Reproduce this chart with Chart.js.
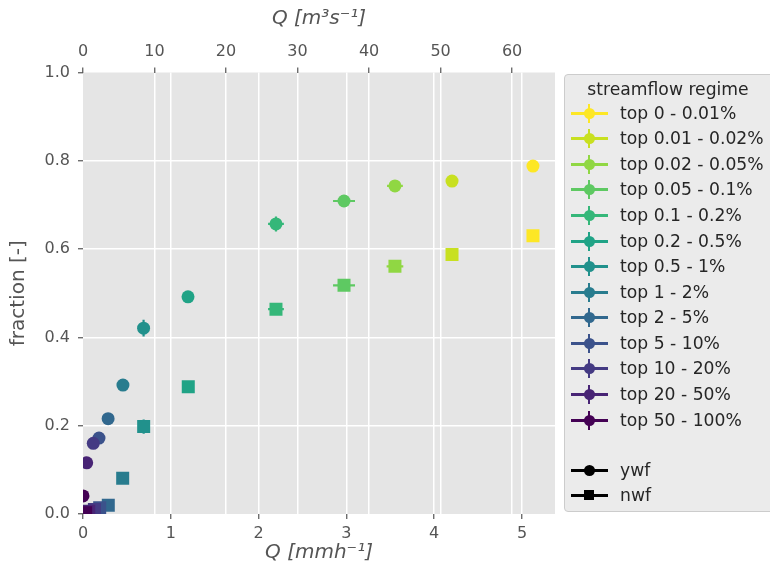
<!DOCTYPE html>
<html lang="en">
<head>
<meta charset="UTF-8">
<script src="https://cdn.jsdelivr.net/npm/chart.js"></script>
<title>Streamflow regime</title>
<style>
    body {
        margin: 0;
        background: #ffffff;
        width: 770px;
        height: 568px;
        overflow: hidden;
        position: relative;
        font-family: 'DejaVu Sans', sans-serif;
    }
    #chart {
        position: absolute;
        left: 0;
        top: 0;
    }
    #legend {
        position: absolute;
        left: 564px;
        top: 74px;
        width: 222px;
        height: 438px;
        background: #ebebeb;
        border: 1px solid #cccccc;
        border-radius: 4px;
        box-sizing: border-box;
        color: #262626;
        font-size: 17.2px;
    }
    .ltitle {
        position: absolute;
        left: 0;
        width: 206px;
        top: 2px;
        height: 25px;
        line-height: 25px;
        text-align: center;
        white-space: nowrap;
    }
    .row {
        position: absolute;
        left: 0;
        height: 25px;
        width: 220px;
    }
    .row .txt {
        position: absolute;
        left: 55px;
        top: 0;
        line-height: 25px;
        white-space: nowrap;
    }
    .row .ln {
        position: absolute;
        left: 6px;
        width: 37px;
        top: 11px;
        height: 3px;
    }
    .row .bar {
        position: absolute;
        left: 23px;
        width: 2px;
        top: 3px;
        height: 19px;
    }
    .row .dot {
        position: absolute;
        left: 18.5px;
        top: 7px;
        width: 11px;
        height: 11px;
        border-radius: 50%;
    }
    .row .sq {
        position: absolute;
        left: 19px;
        top: 7.5px;
        width: 10px;
        height: 10px;
    }
</style>
</head>
<body>
<canvas id="chart" width="770" height="568"></canvas>
<div id="legend">
    <div class="ltitle">streamflow regime</div>
</div>
<script>
    // streamflow classes, from highest flows down (legend order)
    const categories = ['top 0 - 0.01%', 'top 0.01 - 0.02%', 'top 0.02 - 0.05%', 'top 0.05 - 0.1%',
        'top 0.1 - 0.2%', 'top 0.2 - 0.5%', 'top 0.5 - 1%', 'top 1 - 2%', 'top 2 - 5%',
        'top 5 - 10%', 'top 10 - 20%', 'top 20 - 50%', 'top 50 - 100%'];
    const colors = ['#fde725', '#c8e020', '#90d743', '#5ec962', '#35b779', '#20a386', '#21918c',
        '#287c8e', '#31688e', '#3b528b', '#443a83', '#482475', '#440154'];

    // young water fraction (ywf)
    const qYwf = [5.125, 4.203, 3.553, 2.973, 2.198, 1.196, 0.690, 0.455, 0.286, 0.182, 0.117, 0.042, 0.0];
    const fracYwf = [0.788, 0.754, 0.743, 0.709, 0.657, 0.492, 0.421, 0.292, 0.216, 0.172, 0.160, 0.116, 0.041];
    const xErrYwf = [0, 0, 0.09, 0.125, 0.09, 0, 0, 0, 0, 0, 0, 0, 0];
    const yErrYwf = [0, 0, 0, 0, 0.017, 0, 0.019, 0, 0, 0, 0, 0, 0];

    // new water fraction (nwf)
    const qNwf = [5.125, 4.203, 3.553, 2.973, 2.198, 1.199, 0.691, 0.452, 0.288, 0.190, 0.130, 0.065, 0.030];
    const fracNwf = [0.630, 0.588, 0.561, 0.518, 0.464, 0.288, 0.198, 0.081, 0.020, 0.014, 0.010, 0.006, 0.003];
    const xErrNwf = [0, 0, 0.095, 0.125, 0.09, 0, 0, 0, 0, 0, 0, 0, 0];
    const yErrNwf = [0, 0, 0, 0, 0.01, 0, 0.016, 0, 0, 0, 0, 0, 0];

    const qTicks = [0, 1, 2, 3, 4, 5];             // mm/h
    const flowTicks = [0, 10, 20, 30, 40, 50, 60];  // m3/s
    const fracTicks = [0, 0.2, 0.4, 0.6, 0.8, 1.0];

    // legend
    const legend = document.getElementById('legend');
    function addRow(label, color, shape, center, withBar) {
        const row = document.createElement('div');
        row.className = 'row';
        row.style.top = (center - 12.5) + 'px';
        row.innerHTML = `<div class="ln" style="background:${color}"></div>` +
            (withBar ? `<div class="bar" style="background:${color}"></div>` : '') +
            `<div class="${shape}" style="background:${color}"></div>` +
            `<div class="txt">${label}</div>`;
        legend.appendChild(row);
    }
    categories.forEach((c, i) => addRow(c, colors[i], 'dot', 38.3 + 25.56 * i, true));
    addRow('ywf', '#000', 'dot', 395, false);
    addRow('nwf', '#000', 'sq', 420, false);

    const edgeless = c => {
        const v = c.tick ? c.tick.value : null;
        return (v === c.scale.min || v === c.scale.max) ? 'rgba(0,0,0,0)' : '#ffffff';
    };
    const tickFont = { family: 'DejaVu Sans', size: 16 };
    const titleFont = { family: 'DejaVu Sans', size: 20 };
    const gridOpts = { color: edgeless, lineWidth: 1.5, tickColor: '#555555', tickLength: 5, tickWidth: 1.2 };

    const panelBg = {
        id: 'panelBg',
        beforeDraw(chart) {
            const { ctx, chartArea: a } = chart;
            ctx.save();
            ctx.fillStyle = '#e5e5e5';
            ctx.fillRect(a.left, a.top, a.right - a.left, a.bottom - a.top);
            ctx.restore();
        }
    };

    const errorBars = {
        id: 'errorBars',
        beforeDatasetsDraw(chart) {
            const { ctx, chartArea: a, scales } = chart;
            const x = scales.x, y = scales.y;
            ctx.save();
            ctx.beginPath();
            ctx.rect(a.left, a.top, a.right - a.left, a.bottom - a.top);
            ctx.clip();
            ctx.lineWidth = 2.2;
            chart.data.datasets.forEach(ds => {
                ds.data.forEach((p, i) => {
                    ctx.strokeStyle = colors[i];
                    const px = x.getPixelForValue(p.x), py = y.getPixelForValue(p.y);
                    if (ds.xErr[i]) {
                        ctx.beginPath();
                        ctx.moveTo(x.getPixelForValue(p.x - ds.xErr[i]), py);
                        ctx.lineTo(x.getPixelForValue(p.x + ds.xErr[i]), py);
                        ctx.stroke();
                    }
                    if (ds.yErr[i]) {
                        ctx.beginPath();
                        ctx.moveTo(px, y.getPixelForValue(p.y - ds.yErr[i]));
                        ctx.lineTo(px, y.getPixelForValue(p.y + ds.yErr[i]));
                        ctx.stroke();
                    }
                });
            });
            ctx.restore();
        }
    };

    new Chart(document.getElementById('chart').getContext('2d'), {
        type: 'scatter',
        data: {
            datasets: [{
                label: 'ywf',
                data: qYwf.map((q, i) => ({ x: q, y: fracYwf[i] })),
                xErr: xErrYwf,
                yErr: yErrYwf,
                pointStyle: 'circle',
                pointRadius: 6.5,
                pointBorderWidth: 0,
                pointBackgroundColor: colors
            }, {
                label: 'nwf',
                data: qNwf.map((q, i) => ({ x: q, y: fracNwf[i] })),
                xErr: xErrNwf,
                yErr: yErrNwf,
                pointStyle: 'rect',
                pointRadius: 9.2,
                pointBorderWidth: 0,
                pointBackgroundColor: colors
            }]
        },
        options: {
            responsive: false,
            animation: false,
            events: [],
            layout: { autoPadding: false, padding: { left: 0, top: 0, right: 215, bottom: 0 } },
            plugins: { legend: { display: false }, tooltip: { enabled: false } },
            scales: {
                x: {
                    type: 'linear', position: 'bottom', min: 0, max: 5.376,
                    afterBuildTicks: s => { s.ticks = qTicks.map(v => ({ value: v })); },
                    afterFit: s => { s.height = 54; },
                    ticks: { font: tickFont, color: '#555555', padding: 5, maxRotation: 0 },
                    grid: gridOpts,
                    border: { display: false },
                    title: { display: true, text: 'Q [mmh⁻¹]', color: '#555555',
                        font: Object.assign({ style: 'italic' }, titleFont), padding: { top: 0, bottom: 3 } }
                },
                x2: {
                    type: 'linear', position: 'top', axis: 'x', min: 0, max: 66.0,
                    afterBuildTicks: s => { s.ticks = flowTicks.map(v => ({ value: v })); },
                    afterFit: s => { s.height = 72.5; },
                    ticks: { font: tickFont, color: '#555555', padding: 6, maxRotation: 0 },
                    grid: gridOpts,
                    border: { display: false },
                    title: { display: true, text: 'Q [m³s⁻¹]', color: '#555555',
                        font: Object.assign({ style: 'italic' }, titleFont), padding: { top: 7, bottom: 0 } }
                },
                y: {
                    type: 'linear', position: 'left', min: 0, max: 1,
                    afterBuildTicks: s => { s.ticks = fracTicks.map(v => ({ value: v })); },
                    afterFit: s => { s.width = 83; },
                    ticks: { font: tickFont, color: '#555555', padding: 8, callback: v => v.toFixed(1) },
                    grid: gridOpts,
                    border: { display: false },
                    title: { display: true, text: 'fraction [-]', color: '#555555', font: titleFont,
                        padding: { top: 7, bottom: 0 } }
                }
            }
        },
        plugins: [panelBg, errorBars]
    });
</script>
</body>
</html>
